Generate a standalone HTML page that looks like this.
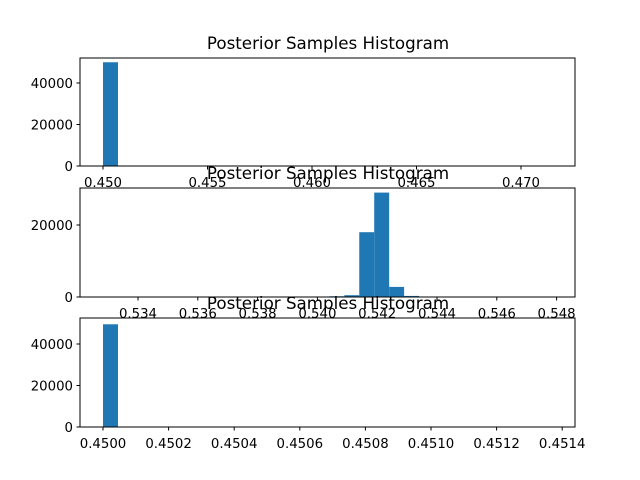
<!DOCTYPE html>
<html><head><meta charset="utf-8"><style>
body{margin:0;background:#fff}
svg{display:block;font-family:"DejaVu Sans","Liberation Sans",sans-serif}
</style></head><body>
<svg id="c" width="640" height="480" viewBox="0 0 640 480" xmlns="http://www.w3.org/2000/svg"></svg>
<script>
// panel 1
const p1BinStarts=[0.4500];
const p1Counts=[50000];
const p1BinWidth=0.000717;
const p1XTicks=["0.450","0.455","0.460","0.465","0.470"];
const p1YTicks=[0,20000,40000];
// panel 2
const p2BinStarts=[0.5404,0.5409,0.5414,0.5419,0.5424,0.5429];
const p2Counts=[200,500,18000,29000,2800,300];
const p2BinWidth=0.0005;
const p2XTicks=["0.534","0.536","0.538","0.540","0.542","0.544","0.546","0.548"];
const p2YTicks=[0,20000];
// panel 3
const p3BinStarts=[0.45000];
const p3Counts=[49500];
const p3BinWidth=0.0000457;
const p3XTicks=["0.4500","0.4502","0.4504","0.4506","0.4508","0.4510","0.4512","0.4514"];
const p3YTicks=[0,20000,40000];

const svg=document.getElementById('c');
const NS='http://www.w3.org/2000/svg';
function mk(t,a,parent){const e=document.createElementNS(NS,t);for(const k in a)e.setAttribute(k,a[k]);(parent||svg).appendChild(e);return e;}

const panels=[
 {top:58,bot:166,x0v:0.450,x0p:103,ppu:104.5/0.005,ypu:41.5/20000,bins:p1BinStarts,counts:p1Counts,bw:p1BinWidth,xt:p1XTicks,yt:p1YTicks},
 {top:188,bot:297,x0v:0.534,x0p:138,ppu:29.9/0.001,ypu:72/20000,bins:p2BinStarts,counts:p2Counts,bw:p2BinWidth,xt:p2XTicks,yt:p2YTicks},
 {top:318,bot:427,x0v:0.4500,x0p:103,ppu:65.6/0.0002,ypu:41.5/20000,bins:p3BinStarts,counts:p3Counts,bw:p3BinWidth,xt:p3XTicks,yt:p3YTicks}
];
panels.forEach((p,i)=>{
 const g=mk('g',{});
 
 
 const X=v=>p.x0p+(v-p.x0v)*p.ppu;
 const Y=v=>p.bot-v*p.ypu;
 p.bins.forEach((b,j)=>{
  const r=mk('rect',{x:X(b),y:Y(p.counts[j]),width:p.bw*p.ppu,height:p.bot-Y(p.counts[j]),fill:'#1f77b4'},g);
  
  
 });
 const fr=mk('rect',{x:80,y:p.top,width:495,height:p.bot-p.top,fill:'none',stroke:'#000','stroke-width':1},g);
 
 
 p.xt.forEach(t=>{
  const x=X(parseFloat(t));
  mk('line',{x1:x,x2:x,y1:p.bot,y2:p.bot+3.5,stroke:'#000'},g);
  const tx=mk('text',{x:x,y:p.bot+21,'text-anchor':'middle','font-size':13.3},g);
  tx.textContent=t;
  
  
 });
 p.yt.forEach(t=>{
  const y=Y(t);
  mk('line',{x1:80,x2:76.5,y1:y,y2:y,stroke:'#000'},g);
  const tx=mk('text',{x:73,y:y+5,'text-anchor':'end','font-size':13.3},g);
  tx.textContent=t;
  
  
 });
 const ti=mk('text',{x:328,y:p.top-9,'text-anchor':'middle','font-size':16.7},g);
 ti.textContent='Posterior Samples Histogram';
 
 
});
</script>
</body></html>
